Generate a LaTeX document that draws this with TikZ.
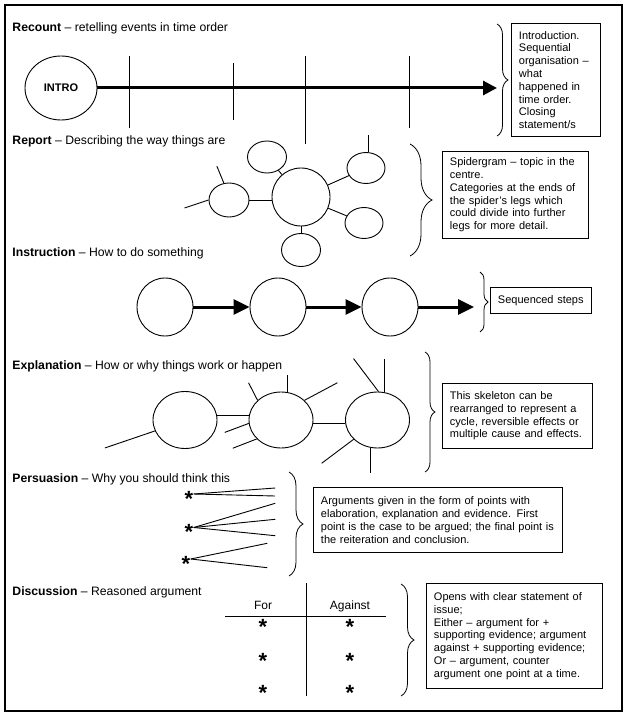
\documentclass[tikz,border=0pt]{standalone}
\usepackage{fontspec}
\setmainfont{Liberation Sans}
\usetikzlibrary{shapes.geometric,arrows.meta,decorations.pathreplacing}
\begin{document}
\begin{tikzpicture}[x=1pt,y=-1pt,
  every path/.style={line width=0.9pt},
  ell/.style 2 args={ellipse,draw,line width=0.9pt,inner sep=0pt,minimum width=#1,minimum height=#2},
  head/.style={anchor=base west,inner sep=0pt,font=\fontsize{12.2}{14}\selectfont},
  colhead/.style={anchor=base,inner sep=0pt,font=\fontsize{12}{14}\selectfont},
  infobox/.style={draw,line width=0.9pt,anchor=north west,align=left,inner xsep=7.5pt,inner ysep=0pt,font=\fontsize{11}{12.8}\selectfont},
  brc/.style={decorate,decoration={brace,amplitude=#1},line width=0.8pt},
  bigarrow/.style={line width=3pt,-{Triangle[length=14pt,width=14pt]}},
  steparrow/.style={line width=3pt,-{Triangle[length=16pt,width=15pt]}},
  star/.style={inner sep=0pt,font=\fontsize{22}{22}\selectfont\bfseries,text height=24pt,text depth=0pt}
]
\useasboundingbox (0,0) rectangle (627,719);
\draw[line width=1.1pt] (5,5) rectangle (622,711);

% headings
\node[head] (hrec) at (12,31.5) {\textbf{Recount} – retelling events in time order};
\node[head] (hrep) at (12,144.5) {\textbf{Report} – Describing the way things are};
\node[head] (hins) at (12,256.5) {\textbf{Instruction} – How to do something};
\node[head] (hexp) at (12,369) {\textbf{Explanation} – How or why things work or happen};
\node[head] (hper) at (12,482) {\textbf{Persuasion} – Why you should think this};
\node[head] (hdis) at (12,595.5) {\textbf{Discussion} – Reasoned argument};

% Recount
\node[ell={72pt}{64pt},font=\fontsize{11}{13}\selectfont\bfseries] (intro) at (61,88) {INTRO};
\coordinate (recend) at (497,88);
\draw[bigarrow] (intro) -- (recend);
\draw (129,56) -- (129,128);
\draw (233,63) -- (233,120);
\draw (305,56) -- (305,144);
\draw (409,56) -- (409,128);
\draw[brc=11pt] (497,24) -- (497,136);
\node[infobox,minimum width=89pt,minimum height=113pt,text width=74pt] (brec) at (511,23)
  {Introduction.\\Sequential\\organisation –\\what\\happened in\\time order.\\Closing\\statement/s};

% Report (spidergram)
\node[ell={58pt}{58pt}] (C) at (301,197) {};
\node[ell={39pt}{32pt}] (TL) at (267,157) {};
\node[ell={38pt}{31pt}] (TR) at (366,168) {};
\node[ell={38pt}{31pt}] (LR) at (364,223) {};
\node[ell={39pt}{33pt}] (B) at (301,250) {};
\node[ell={40pt}{34pt}] (L) at (229,200) {};
\draw (L) -- (L -| C.west);
\draw (TL) -- (C);
\draw (C) -- (TR);
\draw (C) -- (LR);
\draw (C) -- (B);
\draw (TR.80) -- ++(0,-17);
\draw (L.107) -- ++(-7,-17);
\draw (L.west) -- ++(-24,8);
\draw[brc=22pt] (410,144) -- (410,256);
\node[infobox,minimum width=146pt,minimum height=87pt,text width=131pt] (brep) at (442,151)
  {Spidergram – topic in the\\centre.\\Categories at the ends of\\the spider's legs which\\could divide into further\\legs for more detail.};

% Instruction
\node[ell={56pt}{58pt}] (I1) at (165,307) {};
\node[ell={56pt}{58pt}] (I2) at (278,307) {};
\node[ell={56pt}{58pt}] (I3) at (390,307) {};
\coordinate (insend) at (474,307);
\draw[steparrow] (I1) -- (I2);
\draw[steparrow] (I2) -- (I3);
\draw[steparrow] (I3) -- (insend);
\draw[brc=8pt] (480,272) -- (480,332);
\node[infobox,minimum width=101pt,minimum height=26pt,text width=86pt] (bins) at (490,287) {Sequenced steps};

% Explanation
\node[ell={64pt}{57pt}] (E1) at (185,420) {};
\node[ell={64pt}{56pt}] (E2) at (281,420) {};
\node[ell={64pt}{56pt}] (E3) at (377.5,420) {};
\draw (E1.8) -- (E2.172);
\draw (E2.-6) -- (E3.186);
\draw (E1.200) -- ++(-50,17);
\draw (E2.140) -- ++(-9,-17.6);
\draw (E2.76) -- ++(0,-17.6);
\draw (E2.40) -- ++(33,-17.6);
\draw (E2.186) -- ++(-24,9);
\draw (E2.218) -- ++(-24,9.3);
\draw (E3.88) -- ++(-25,-33);
\draw (E3.75) -- ++(0,-33.5);
\draw (E3.219) -- ++(-32,24);
\draw (E3.-105) -- ++(0,25);
\draw[brc=10pt] (425,352) -- (425,472);
\node[infobox,minimum width=150pt,minimum height=65pt,text width=135pt] (bexp) at (442,383)
  {This skeleton can be\\rearranged to represent a\\cycle, reversible effects or\\multiple cause and effects.};

% Persuasion
\node[star] (S1) at (189,494) {*};
\node[star] (S2) at (189,527.5) {*};
\node[star] (S3) at (186,559) {*};
\draw (S1.east) -- ++(81.5,-6);
\draw (S1.east) -- ++(81.5,2);
\draw (S2.east) -- ++(81.5,-24.2);
\draw (S2.east) -- ++(81.5,-8.2);
\draw (S2.east) -- ++(81.5,8.2);
\draw (S3.east) -- ++(76.5,-15.7);
\draw (S3.east) -- ++(76.5,8.7);
\draw[brc=14pt] (289,472) -- (289,576);
\node[infobox,minimum width=249pt,minimum height=65pt,text width=234pt] (bper) at (313,487)
  {Arguments given in the form of points with\\elaboration, explanation and evidence. First\\point is the case to be argued; the final point is\\the reiteration and conclusion.};

% Discussion
\coordinate (vt) at (306,583);
\coordinate (vb) at (306,696);
\draw (vt) -- (vb);
\coordinate (hl) at (225,616);
\coordinate (hr) at (386,616);
\draw (hl) -- (hr);
\node[colhead] (for) at (263,609) {For};
\node[colhead] (against) at (350,609) {Against};
\node[star] (F1) at (263,622) {*};
\node[star] (F2) at (263,656) {*};
\node[star] (F3) at (263,688) {*};
\node[star] (A1) at (350,622) {*};
\node[star] (A2) at (350,656) {*};
\node[star] (A3) at (350,688) {*};
\draw[brc=13pt] (401,584) -- (401,696);
\node[infobox,minimum width=176pt,minimum height=105pt,text width=161pt] (bdis) at (426,583)
  {Opens with clear statement of\\issue;\\Either – argument for +\\supporting evidence; argument\\against + supporting evidence;\\Or – argument, counter\\argument one point at a time.};
\end{tikzpicture}
\end{document}
